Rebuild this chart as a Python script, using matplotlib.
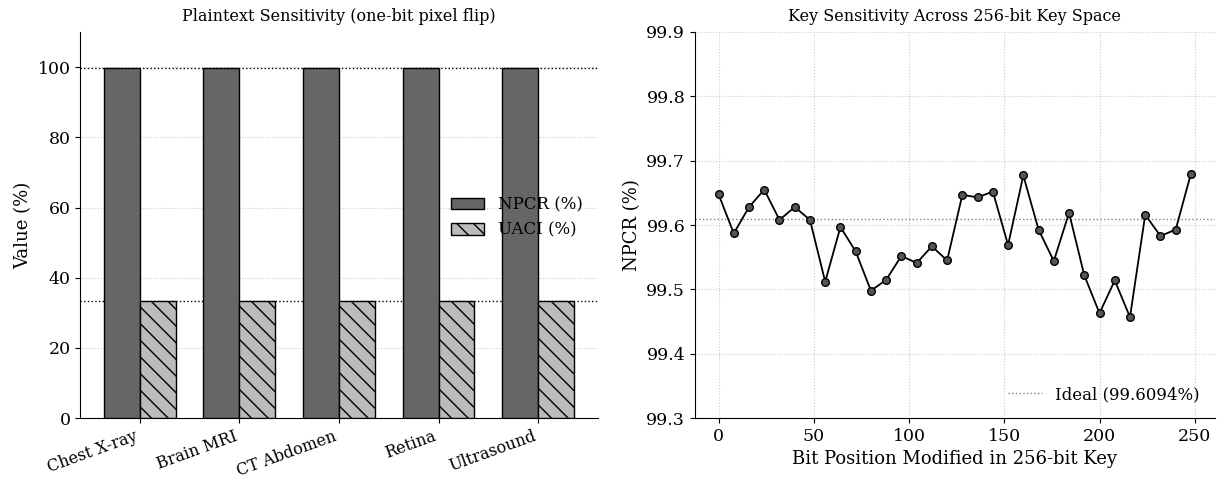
import matplotlib.pyplot as plt
import numpy as np

plt.rcParams['font.family'] = 'DejaVu Serif'

categories = ["Chest X-ray", "Brain MRI", "CT Abdomen", "Retina", "Ultrasound"]
npcr = [99.61, 99.60, 99.61, 99.59, 99.61]
uaci = [33.45, 33.47, 33.44, 33.43, 33.46]
npcr_ideal = 99.6094
uaci_ideal = 33.4635

bit_positions = list(range(0, 256, 8))
key_npcr = [99.648, 99.587, 99.628, 99.655, 99.608, 99.628, 99.608, 99.512,
            99.597, 99.559, 99.498, 99.515, 99.552, 99.541, 99.567, 99.545,
            99.647, 99.643, 99.652, 99.569, 99.677, 99.593, 99.544, 99.619,
            99.522, 99.463, 99.514, 99.457, 99.616, 99.583, 99.593, 99.680]

fig = plt.figure(figsize=(12.17, 4.84), dpi=100)
ax1 = fig.add_axes([0.066, 0.136, 0.425, 0.798])
ax2 = fig.add_axes([0.571, 0.136, 0.427, 0.798])

# left: plaintext sensitivity bars
x = np.arange(len(categories))
w = 0.36
ax1.bar(x - w / 2, npcr, w, color="#666666", edgecolor="black", linewidth=1, label="NPCR (%)", zorder=3)
ax1.bar(x + w / 2, uaci, w, color="#bbbbbb", edgecolor="black", linewidth=1, hatch="\\\\",
        label="UACI (%)", zorder=3)
ax1.axhline(npcr_ideal, color="black", linestyle=":", linewidth=1, zorder=2)
ax1.axhline(uaci_ideal, color="black", linestyle=":", linewidth=1, zorder=2)
ax1.set_xticks(x)
ax1.set_xticklabels(categories, rotation=20, ha="right", fontsize=11.5)
ax1.set_ylim(0, 110)
ax1.set_yticks([0, 20, 40, 60, 80, 100])
ax1.tick_params(axis="y", labelsize=12.5)
ax1.set_ylabel("Value (%)", fontsize=13)
ax1.set_title("Plaintext Sensitivity (one-bit pixel flip)", fontsize=11.5, pad=8)
ax1.grid(axis="y", linestyle=":", color="#cccccc", linewidth=0.8, zorder=0)
ax1.legend(loc="center right", frameon=False, fontsize=12, bbox_to_anchor=(1.0, 0.52))
ax1.spines["top"].set_visible(False)
ax1.spines["right"].set_visible(False)

# right: key sensitivity
ax2.plot(bit_positions, key_npcr, color="black", linewidth=1.3, marker="o", markersize=5.5,
         markerfacecolor="#555555", markeredgecolor="black", zorder=3)
ax2.axhline(npcr_ideal, color="gray", linestyle=":", linewidth=1, label="Ideal (99.6094%)", zorder=2)
ax2.set_ylim(99.3, 99.9)
ax2.set_yticks(np.round(np.arange(99.3, 99.95, 0.1), 1))
ax2.tick_params(labelsize=12.5)
ax2.set_xlabel("Bit Position Modified in 256-bit Key", fontsize=13)
ax2.set_ylabel("NPCR (%)", fontsize=13)
ax2.set_title("Key Sensitivity Across 256-bit Key Space", fontsize=11.5, pad=8)
ax2.grid(linestyle=":", color="#cccccc", linewidth=0.8, zorder=0)
ax2.legend(loc="lower right", frameon=False, fontsize=12)
ax2.spines["top"].set_visible(False)
ax2.spines["right"].set_visible(False)

plt.savefig("out.png")
